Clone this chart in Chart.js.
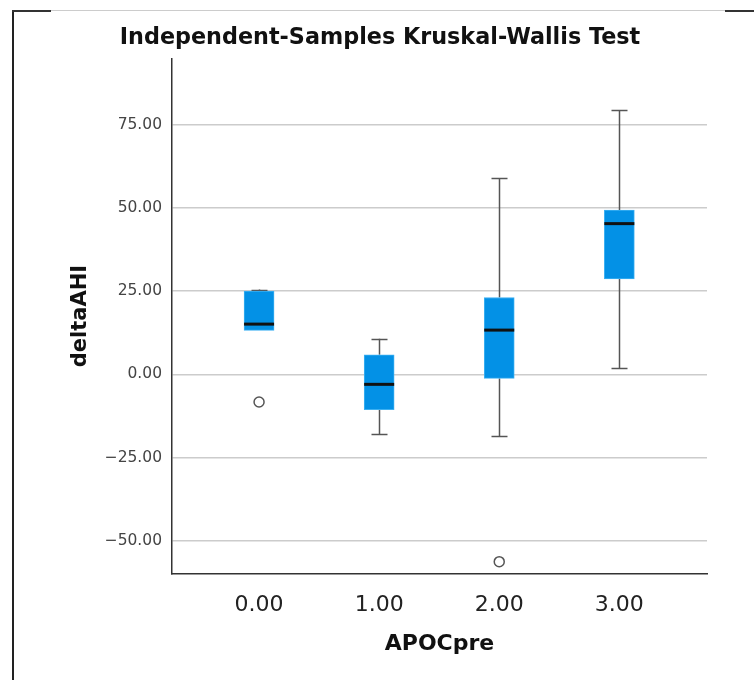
<!DOCTYPE html>
<html>
<head>
<meta charset="utf-8">
<script src="https://cdn.jsdelivr.net/npm/chart.js@4.4.0/dist/chart.umd.min.js"></script>
<style>
    body { margin: 0; background: #fff; }
    #wrap { position: relative; width: 754px; height: 680px; }
    .edge { position: absolute; }
</style>
</head>
<body>
<div id="wrap">
    <canvas id="chart" width="754" height="680"></canvas>
    <div class="edge" style="left:12px;top:10px;width:2px;height:670px;background:#222"></div>
    <div class="edge" style="left:12px;top:10px;width:39px;height:2px;background:#333"></div>
    <div class="edge" style="left:51px;top:10px;width:674px;height:1px;background:#ccc"></div>
    <div class="edge" style="left:725px;top:10px;width:29px;height:2px;background:#333"></div>
</div>
<script>
// APOCpre groups
const groups = [0, 1, 2, 3];
const groupLabels = ["0.00", "1.00", "2.00", "3.00"];

// deltaAHI box summaries per group
const whiskerLow = [13.2, -18.0, -18.6, 1.8];
const q1 = [13.2, -10.6, -1.2, 28.7];
const median = [15.1, -3.0, 13.3, 45.3];
const q3 = [25.0, 5.9, 23.1, 49.4];
const whiskerHigh = [25.5, 10.7, 59.0, 79.3];

// outliers
const outlierGroup = [0, 2];
const outlierValue = [-8.3, -56.3];

const yTicks = [-50, -25, 0, 25, 50, 75];

const boxPlugin = {
    id: "boxParts",
    beforeDatasetsDraw(chart) {
        const { ctx, scales: { x, y } } = chart;
        ctx.save();
        ctx.strokeStyle = "#555";
        ctx.lineWidth = 1.5;
        groups.forEach((g, i) => {
            const cx = Math.round(x.getPixelForValue(g)) + 0.5;
            const ends = [[whiskerHigh[i], q3[i]], [whiskerLow[i], q1[i]]];
            ends.forEach(([end, edge]) => {
                if (end === edge) return; // no whisker past the box
                const ya = y.getPixelForValue(end), yb = y.getPixelForValue(edge);
                ctx.beginPath();
                ctx.moveTo(cx, ya);
                ctx.lineTo(cx, yb);
                ctx.stroke();
                const py = Math.round(ya) + 0.5;
                ctx.beginPath();
                ctx.moveTo(cx - 8, py);
                ctx.lineTo(cx + 8, py);
                ctx.stroke();
            });
        });
        ctx.restore();
    },
    afterDatasetsDraw(chart) {
        const { ctx, scales: { x, y } } = chart;
        ctx.save();
        ctx.strokeStyle = "#111";
        ctx.lineWidth = 3;
        groups.forEach((g, i) => {
            const cx = x.getPixelForValue(g);
            const py = y.getPixelForValue(median[i]);
            ctx.beginPath();
            ctx.moveTo(cx - 15, py);
            ctx.lineTo(cx + 15, py);
            ctx.stroke();
        });
        ctx.restore();
    }
};

new Chart(document.getElementById("chart"), {
    type: "bar",
    data: {
        datasets: [
            {
                type: "bar",
                data: groups.map((g, i) => ({ x: g, y: [q1[i], q3[i]] })),
                backgroundColor: "#0391e6",
                borderColor: "#3cb0f2",
                borderWidth: 1,
                borderSkipped: false,
                barThickness: 30
            },
            {
                type: "scatter",
                data: outlierGroup.map((g, i) => ({ x: g, y: outlierValue[i] })),
                pointRadius: 5,
                pointBackgroundColor: "#fff",
                pointBorderColor: "#555",
                pointBorderWidth: 1.5
            }
        ]
    },
    options: {
        responsive: false,
        animation: false,
        events: [],
        layout: { padding: { left: 53, right: 47, top: 0, bottom: 0 } },
        plugins: {
            legend: { display: false },
            tooltip: { enabled: false },
            title: {
                display: true,
                text: "Independent-Samples Kruskal-Wallis Test",
                color: "#111",
                font: { family: "'DejaVu Sans'", size: 22.3, weight: "bold", lineHeight: 1.2 },
                padding: { top: 25, bottom: 6.5 }
            }
        },
        scales: {
            x: {
                type: "linear",
                offset: false,
                min: -0.725,
                max: 3.73,
                grid: { display: false, offset: false },
                border: { display: true, color: "#333", width: 1.5 },
                ticks: {
                    stepSize: 1,
                    includeBounds: false,
                    padding: 10,
                    color: "#222",
                    font: { family: "'DejaVu Sans'", size: 22 },
                    callback: v => groupLabels[groups.indexOf(v)]
                },
                title: {
                    display: true,
                    text: "APOCpre",
                    color: "#111",
                    font: { family: "'DejaVu Sans'", size: 22, weight: "bold", lineHeight: 1.2 },
                    padding: { top: 14, bottom: 23 }
                },
                afterFit: s => { s.height = 106; }
            },
            y: {
                min: -60,
                max: 95,
                grid: { color: "#cccccc", lineWidth: 1.5, drawTicks: false },
                border: { display: true, color: "#333", width: 1.5 },
                afterBuildTicks: s => { s.ticks = yTicks.map(v => ({ value: v })); },
                ticks: {
                    padding: 10,
                    color: "#444",
                    font: { family: "'DejaVu Sans'", size: 15.5 },
                    callback: v => (v < 0 ? "\u2212" : "") + Math.abs(v).toFixed(2)
                },
                title: {
                    display: true,
                    text: "deltaAHI",
                    color: "#111",
                    font: { family: "'DejaVu Sans'", size: 21, weight: "bold", lineHeight: 1.2 },
                    padding: { top: 15, bottom: 0 }
                },
                afterFit: s => { s.width = 119; }
            }
        }
    },
    plugins: [boxPlugin]
});
</script>
</body>
</html>
